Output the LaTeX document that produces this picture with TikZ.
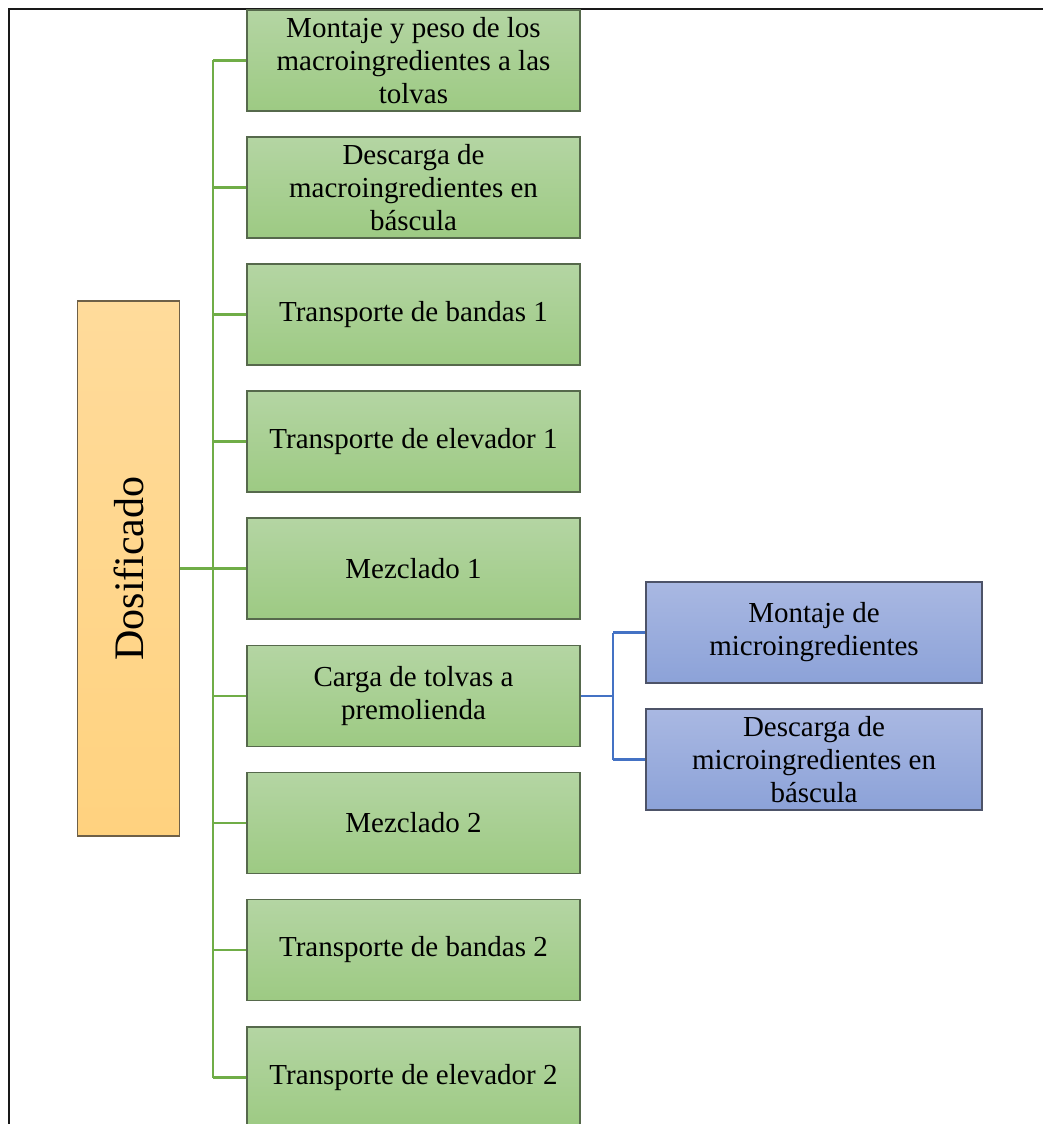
\documentclass[tikz,border=0pt]{standalone}
\usepackage{fontspec}
\setmainfont{Liberation Serif}
\begin{document}
\begin{tikzpicture}[x=1pt,y=-1pt,
  box/.style={rectangle, inner sep=0pt, align=center, line width=1.3pt,
    font=\fontsize{29}{33}\selectfont},
  greenbox/.style={box, draw=greenedge, top color=greentop, bottom color=greenbot,
    minimum width=333pt, minimum height=101pt},
  bluebox/.style={box, draw=blueedge, top color=bluetop, bottom color=bluebot,
    minimum width=336pt, minimum height=101pt},
  rootbox/.style={box, draw=rootedge, top color=roottop, bottom color=rootbot,
    minimum width=102pt, minimum height=535pt},
  greenlink/.style={draw=greenline, line width=2.8pt},
  bluelink/.style={draw=blueline, line width=2.8pt}]

\definecolor{greentop}{HTML}{B4D5A3}
\definecolor{greenbot}{HTML}{9DCA83}
\definecolor{greenedge}{HTML}{56694C}
\definecolor{bluetop}{HTML}{A9B8E2}
\definecolor{bluebot}{HTML}{8CA2D8}
\definecolor{blueedge}{HTML}{4D5368}
\definecolor{roottop}{HTML}{FFDB9B}
\definecolor{rootbot}{HTML}{FFD27F}
\definecolor{rootedge}{HTML}{6E6048}
\definecolor{greenline}{HTML}{70AD47}
\definecolor{blueline}{HTML}{4472C4}

\useasboundingbox (0,0) rectangle (1043,1124);

% outer frame
\draw[line width=2.4pt, black!90] (9,1130) -- (9,9) -- (1050,9);

% root
\node[rootbox] (root) at (128.5,568.5) {};
\node[rotate=90, font=\fontsize{42}{48}\selectfont] (roottext) at (root.center) {Dosificado};

% main steps
\node[greenbox] (s1) at (413.5,60.5) {Montaje y peso de los\\macroingredientes a las\\tolvas};
\node[greenbox] (s2) at (413.5,187.5) {Descarga de\\macroingredientes en\\báscula};
\node[greenbox] (s3) at (413.5,314.5) {Transporte de bandas 1};
\node[greenbox] (s4) at (413.5,441.5) {Transporte de elevador 1};
\node[greenbox] (s5) at (413.5,568.5) {Mezclado 1};
\node[greenbox] (s6) at (413.5,696.0) {Carga de tolvas a\\premolienda};
\node[greenbox] (s7) at (413.5,823.0) {Mezclado 2};
\node[greenbox] (s8) at (413.5,950.0) {Transporte de bandas 2};
\node[greenbox] (s9) at (413.5,1077.5) {Transporte de elevador 2};

% sub steps
\node[bluebox] (m1) at (814,632.5) {Montaje de\\microingredientes};
\node[bluebox] (m2) at (814,759.5) {Descarga de\\microingredientes en\\báscula};

% trunk and branches
\coordinate (trunk) at (213,0);
\draw[greenlink] (root.east) -- (trunk |- root.east);
\draw[greenlink] (trunk |- s1.west) -- (trunk |- s9.west);
\foreach \s in {s1,s2,s3,s4,s5,s6,s7,s8,s9}
  \draw[greenlink] (trunk |- \s.west) -- (\s.west);

\coordinate (fork) at (613,0);
\draw[bluelink] (s6.east) -- (fork |- s6.east);
\draw[bluelink] (fork |- m1.west) -- (fork |- m2.west);
\draw[bluelink] (fork |- m1.west) -- (m1.west);
\draw[bluelink] (fork |- m2.west) -- (m2.west);
\end{tikzpicture}
\end{document}
